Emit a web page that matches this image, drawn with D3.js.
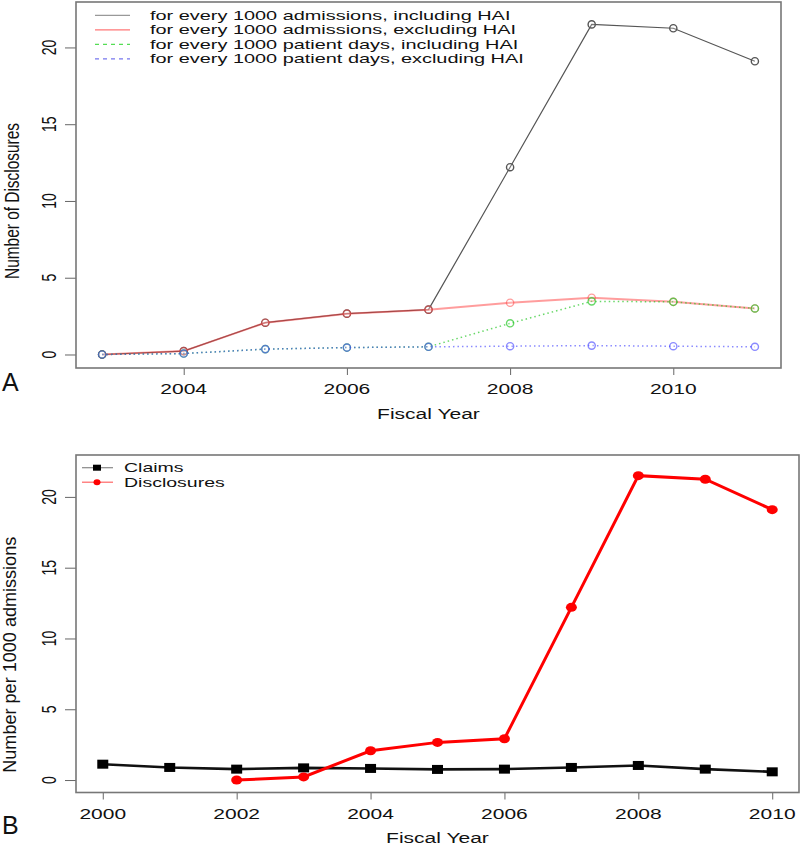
<!DOCTYPE html>
<html><head><meta charset="utf-8">
<script src="https://cdn.jsdelivr.net/npm/d3@7"></script>
<style>body{margin:0;background:#fff}svg{display:block}text{font-family:"Liberation Sans",Arial,sans-serif;fill:#111}</style>
</head><body>
<svg id="c" width="800" height="844"></svg>
<script>
// ---- Panel A data ----
const yearsA = [2003, 2004, 2005, 2006, 2007, 2008, 2009, 2010, 2011];
const admIncl = [0, 0.22, 2.07, 2.66, 2.92, 12.2, 21.5, 21.25, 19.1];
const admExcl = [0, 0.22, 2.07, 2.66, 2.92, 3.37, 3.7, 3.43, 3.0];
const daysIncl = [0, 0.06, 0.35, 0.45, 0.5, 2.03, 3.46, 3.43, 3.0];
const daysExcl = [0, 0.06, 0.35, 0.45, 0.5, 0.54, 0.58, 0.54, 0.5];
const seriesNamesA = ["for every 1000 admissions, including HAI", "for every 1000 admissions, excluding HAI",
  "for every 1000 patient days, including HAI", "for every 1000 patient days, excluding HAI"];
const xTicksA = [2004, 2006, 2008, 2010];
const yTicks = [0, 5, 10, 15, 20];
// ---- Panel B data ----
const yearsClaims = [2000, 2001, 2002, 2003, 2004, 2005, 2006, 2007, 2008, 2009, 2010];
const claims = [1.12, 0.89, 0.77, 0.86, 0.82, 0.75, 0.77, 0.89, 1.03, 0.77, 0.58];
const yearsDisc = [2002, 2003, 2004, 2005, 2006, 2007, 2008, 2009, 2010];
const disclosures = [0, 0.22, 2.07, 2.66, 2.92, 12.2, 21.5, 21.25, 19.1];
const seriesNamesB = ["Claims", "Disclosures"];
const xTicksB = [2000, 2002, 2004, 2006, 2008, 2010];

const K = 1.5; // horizontal stretch of the original figure
const svg = d3.select("#c");

function stretch(sel, k) {
  sel.each(function () {
    const w = this.getComputedTextLength();
    this.setAttribute("textLength", w * k);
    this.setAttribute("lengthAdjust", "spacingAndGlyphs");
  });
}
function rotText(g, x, y, str, size, len, k) {
  const t = g.append("text").attr("transform", `translate(${x},${y}) rotate(-90) scale(1,${k || K})`)
    .attr("text-anchor", "middle").attr("font-size", size).text(str);
  if (len) t.attr("textLength", len).attr("lengthAdjust", "spacingAndGlyphs");
  return t;
}

function panel(cfg) {
  const g = svg.append("g");
  const x = d3.scaleLinear().domain(cfg.xdom).range([cfg.left, cfg.right]);
  const y = d3.scaleLinear().domain([-0.88, 22.96]).range([cfg.bottom, cfg.top]);
  // y axis
  const ya = g.append("g").attr("transform", `translate(${cfg.left},0)`)
    .call(d3.axisLeft(y).tickValues(yTicks).tickSize(11).tickFormat(""));
  ya.select(".domain").remove();
  ya.selectAll("line").attr("stroke", "#666").attr("stroke-width", 1);
  yTicks.forEach(v => rotText(g, 56, y(v), String(v), 14));
  // x axis
  const xa = g.append("g").attr("transform", `translate(0,${cfg.bottom})`)
    .call(d3.axisBottom(x).tickValues(cfg.xticks).tickSize(7).tickFormat(""));
  xa.select(".domain").remove();
  xa.selectAll("line").attr("stroke", "#666").attr("stroke-width", 1);
  const xl = g.selectAll(".xl").data(cfg.xticks).enter().append("text")
    .attr("x", d => x(d)).attr("y", cfg.bottom + 26).attr("text-anchor", "middle")
    .attr("font-size", 14).text(d => d);
  stretch(xl, K);
  stretch(g.append("text").attr("x", (cfg.left + cfg.right) / 2).attr("y", cfg.bottom + cfg.xtitleDy)
    .attr("text-anchor", "middle").attr("font-size", 14).text("Fiscal Year"), K);
  rotText(g, cfg.ytitleX, (cfg.top + cfg.bottom) / 2 + cfg.ytitleDy, cfg.ytitle, cfg.ytitleSize, cfg.ytitleLen, cfg.ytitleK);
  g.append("text").attr("x", 2).attr("y", cfg.bottom + cfg.letterDy).attr("font-size", 25).text(cfg.letter);
  return { g, x, y };
}

// ---------- Panel A ----------
const A = panel({ xdom: [2002.68, 2011.32], left: 76, right: 781, top: 2, bottom: 368,
  xticks: xTicksA, xtitleDy: 51, ytitle: "Number of Disclosures", ytitleX: 19, ytitleDy: 16,
  ytitleSize: 15, ytitleLen: 156, ytitleK: 1.35, letter: "A", letterDy: 23 });
const seriesA = [
  { vals: admIncl, color: "#555", w: 1.2, dash: null, lcolor: "#999", ldash: null },
  { vals: admExcl, color: "rgba(255,60,60,0.5)", w: 2, dash: null, lcolor: "#f77", ldash: null },
  { vals: daysIncl, color: "rgba(40,200,40,0.7)", w: 1.5, dash: "1.5,3", lcolor: "#5d5", ldash: "4,4" },
  { vals: daysExcl, color: "rgba(60,60,255,0.6)", w: 1.5, dash: "1.5,3", lcolor: "#77e", ldash: "4,4" }
];
const lineA = d3.line().x((d, i) => A.x(yearsA[i])).y(d => A.y(d));
seriesA.forEach(s => {
  A.g.append("path").attr("d", lineA(s.vals)).attr("fill", "none").attr("stroke", s.color)
    .attr("stroke-width", s.w).attr("stroke-dasharray", s.dash);
  A.g.selectAll(null).data(s.vals).enter().append("circle")
    .attr("cx", (d, i) => A.x(yearsA[i])).attr("cy", d => A.y(d)).attr("r", 3.6)
    .attr("fill", "rgba(255,255,255,0.2)").attr("stroke", s.color).attr("stroke-width", 1.4);
});
seriesA.forEach((s, i) => {
  const yy = 15.3 + i * 14.5;
  A.g.append("line").attr("x1", 95).attr("x2", 130).attr("y1", yy).attr("y2", yy)
    .attr("stroke", s.lcolor).attr("stroke-width", 1.2).attr("stroke-dasharray", s.ldash);
  stretch(A.g.append("text").attr("x", 150).attr("y", yy + 4.6).attr("font-size", 13).text(seriesNamesA[i]), 1.53);
});
A.g.append("rect").attr("x", 76).attr("y", 2).attr("width", 705).attr("height", 366)
  .attr("fill", "none").attr("stroke", "#777").attr("stroke-width", 1.6);

// ---------- Panel B ----------
const B = panel({ xdom: [1999.6, 2010.4], left: 76, right: 799, top: 455, bottom: 792.5,
  xticks: xTicksB, xtitleDy: 50, ytitle: "Number per 1000 admissions", ytitleX: 16, ytitleDy: 31,
  ytitleSize: 14, ytitleLen: 236, ytitleK: 1.3, letter: "B", letterDy: 41 });
B.g.append("path").attr("d", d3.line().x((d, i) => B.x(yearsClaims[i])).y(d => B.y(d))(claims))
  .attr("fill", "none").attr("stroke", "#111").attr("stroke-width", 2.6);
B.g.selectAll(null).data(claims).enter().append("rect")
  .attr("x", (d, i) => B.x(yearsClaims[i]) - 5.5).attr("y", d => B.y(d) - 4.5)
  .attr("width", 11).attr("height", 9).attr("fill", "#000");
B.g.append("path").attr("d", d3.line().x((d, i) => B.x(yearsDisc[i])).y(d => B.y(d))(disclosures))
  .attr("fill", "none").attr("stroke", "#f00").attr("stroke-width", 3);
B.g.selectAll(null).data(disclosures).enter().append("ellipse")
  .attr("cx", (d, i) => B.x(yearsDisc[i])).attr("cy", d => B.y(d)).attr("rx", 5.5).attr("ry", 4.5)
  .attr("fill", "#f00");
// legend B
[0, 1].forEach(i => {
  const yy = 467.7 + i * 14.5;
  B.g.append("line").attr("x1", 82).attr("x2", 113).attr("y1", yy).attr("y2", yy)
    .attr("stroke", i ? "#f66" : "#888").attr("stroke-width", 1.2);
  if (i === 0) B.g.append("rect").attr("x", 93).attr("y", yy - 3).attr("width", 8).attr("height", 6).attr("fill", "#000");
  else B.g.append("ellipse").attr("cx", 97).attr("cy", yy).attr("rx", 3.5).attr("ry", 3).attr("fill", "#f00");
  stretch(B.g.append("text").attr("x", 124).attr("y", yy + 4.6).attr("font-size", 13).text(seriesNamesB[i]), 1.5);
});
B.g.append("rect").attr("x", 76).attr("y", 455).attr("width", 723).attr("height", 337.5)
  .attr("fill", "none").attr("stroke", "#777").attr("stroke-width", 1.6);
</script>
</body></html>
